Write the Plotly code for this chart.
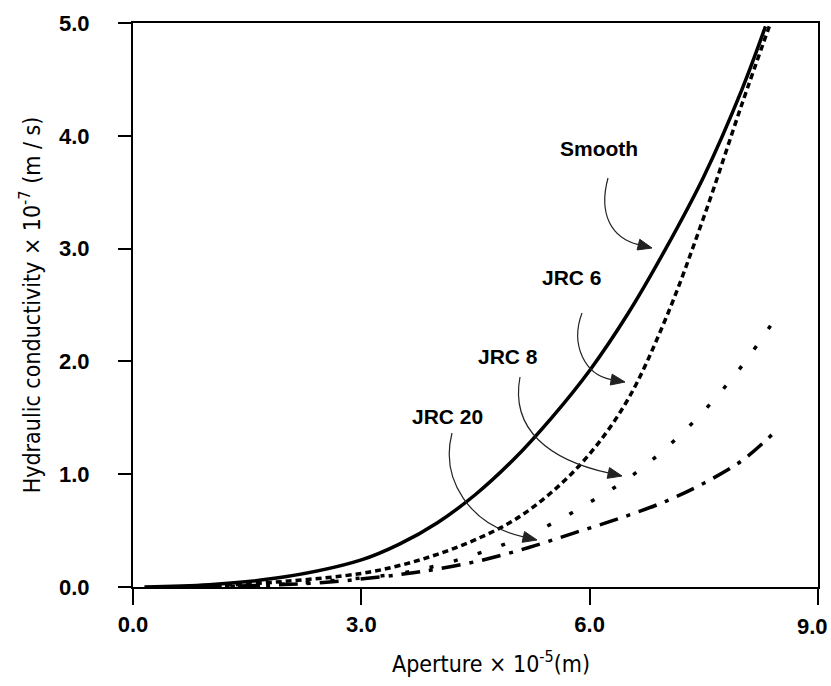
import plotly.graph_objects as go

# ---------------- data ----------------
smooth_x = [0.15, 1.0, 2.0, 3.0, 3.5, 4.0, 4.5, 5.0, 5.5, 6.0, 6.5, 7.0, 7.5, 8.0, 8.31]
smooth_y = [0.0, 0.02, 0.09, 0.24, 0.38, 0.57, 0.82, 1.13, 1.50, 1.92, 2.42, 3.00, 3.64, 4.41, 4.97]

jrc6_x = [0.3, 1.0, 2.0, 3.0, 3.5, 4.0, 4.5, 5.0, 5.5, 6.0, 6.5, 7.0, 7.5, 8.0, 8.36]
jrc6_y = [0.0, 0.01, 0.05, 0.12, 0.19, 0.29, 0.42, 0.59, 0.84, 1.18, 1.66, 2.38, 3.28, 4.28, 4.97]

jrc8_x = [0.3, 1.5, 2.5, 3.5, 4.0, 4.5, 5.0, 5.5, 6.0, 6.5, 7.0, 7.5, 8.0, 8.45]
jrc8_y = [0.0, 0.01, 0.05, 0.12, 0.19, 0.29, 0.41, 0.56, 0.75, 0.96, 1.23, 1.56, 1.96, 2.39]

jrc20_x = [0.3, 1.5, 2.5, 3.5, 4.0, 4.6, 5.2, 5.8, 6.4, 7.0, 7.5, 8.0, 8.41]
jrc20_y = [0.0, 0.01, 0.04, 0.11, 0.16, 0.24, 0.35, 0.48, 0.61, 0.76, 0.92, 1.12, 1.36]

x_ticks = [0.0, 3.0, 6.0, 9.0]
x_tick_labels = ["0.0", "3.0", "6.0", "9.0"]
y_ticks = [0.0, 1.0, 2.0, 3.0, 4.0, 5.0]
y_tick_labels = ["0.0", "1.0", "2.0", "3.0", "4.0", "5.0"]

series_names = ["Smooth", "JRC 6", "JRC 8", "JRC 20"]
x_title = "Aperture × 10<sup>-5</sup>(m)"
y_title = "Hydraulic conductivity × 10<sup>-7</sup> (m / s)"

# ---------------- layout geometry ----------------
W, H = 831, 686
L, R, T, B = 133, 818, 23, 587
XMAX, YMAX = 9.0, 5.0

def px2x(px):
    return (px - L) / (R - L) * XMAX

def px2y(py):
    return (B - py) / (B - T) * YMAX

def px2paperx(px):
    return (px - L) / (R - L)

def px2papery(py):
    return (B - py) / (B - T)

TITLE_FONT = "DejaVu Sans Condensed, Liberation Sans Narrow, sans-serif"
NUM_FONT = "Liberation Sans, Arial, sans-serif"
TICK_SIZE = 22

fig = go.Figure()
styles = [
    dict(dash="solid", width=3.5),
    dict(dash="6px,4px", width=3.5),
    dict(dash="4px,21px", width=3.5),
    dict(dash="19px,9px,4px,9px", width=3.5),
]
for (xs, ys), name, st in zip(
    [(smooth_x, smooth_y), (jrc6_x, jrc6_y), (jrc8_x, jrc8_y), (jrc20_x, jrc20_y)],
    series_names, styles):
    fig.add_trace(go.Scatter(x=xs, y=ys, mode="lines", name=name,
                             line=dict(color="black", shape="spline", smoothing=1.0, **st),
                             showlegend=False))

# label positions (pixels) and curved arrows (pixel control points)
labels = [
    ("Smooth", 599, 148, [(608, 178), (598, 215), (612, 238), (652, 248)]),
    ("JRC 6", 572, 277, [(582, 313), (570, 345), (585, 375), (625, 382)]),
    ("JRC 8", 508, 356, [(520, 377), (510, 430), (550, 460), (622, 476)]),
    ("JRC 20", 447, 416, [(452, 433), (440, 480), (470, 525), (537, 540)]),
]
ARROW = "#222222"
HEAD_LEN, HEAD_HALF = 14, 5.5
shapes = []
annotations = []
for text, lx, ly, pts in labels:
    annotations.append(dict(x=px2x(lx), y=px2y(ly), xref="x", yref="y", text="<b>" + text + "</b>",
                            showarrow=False, font=dict(family=NUM_FONT, size=21, color="black")))
    (x0, y0), (x1, y1), (x2, y2), (x3, y3) = pts
    dx, dy = x3 - x2, y3 - y2
    n = (dx * dx + dy * dy) ** 0.5
    ux, uy = dx / n, dy / n
    bx, by = x3 - ux * HEAD_LEN, y3 - uy * HEAD_LEN
    path = "M {},{} C {},{} {},{} {},{}".format(px2x(x0), px2y(y0), px2x(x1), px2y(y1),
                                               px2x(x2), px2y(y2), px2x(bx), px2y(by))
    shapes.append(dict(type="path", path=path, xref="x", yref="y",
                       line=dict(color=ARROW, width=1.2)))
    lx1, ly1 = bx - uy * HEAD_HALF, by + ux * HEAD_HALF
    lx2, ly2 = bx + uy * HEAD_HALF, by - ux * HEAD_HALF
    head = "M {},{} L {},{} L {},{} Z".format(px2x(x3), px2y(y3), px2x(lx1), px2y(ly1),
                                            px2x(lx2), px2y(ly2))
    shapes.append(dict(type="path", path=head, xref="x", yref="y",
                       line=dict(color=ARROW, width=1), fillcolor=ARROW))

# last x tick label placed as annotation so it stays inside the page edge
x_ticktext = x_tick_labels[:-1] + [""]
annotations.append(dict(x=px2paperx(830), y=px2papery(626), xref="paper", yref="paper",
                        xanchor="right", yanchor="middle", text="<b>" + x_tick_labels[-1] + "</b>",
                        showarrow=False, font=dict(family=NUM_FONT, size=TICK_SIZE, color="black")))
# x axis title
annotations.append(dict(x=px2paperx(491), y=px2papery(662), xref="paper", yref="paper",
                        xanchor="center", yanchor="middle", text=x_title, showarrow=False,
                        font=dict(family=TITLE_FONT, size=23, color="black")))

fig.update_layout(
    width=W, height=H,
    margin=dict(l=L, r=W - R, t=T, b=H - B, pad=0),
    paper_bgcolor="white", plot_bgcolor="white",
    shapes=shapes, annotations=annotations,
    font=dict(family=TITLE_FONT, color="black"),
)
fig.update_xaxes(
    range=[0, XMAX], tickvals=x_ticks, ticktext=x_ticktext, automargin=False,
    showgrid=False, zeroline=False, showline=True, linecolor="black", linewidth=2,
    mirror=True, ticks="outside", ticklen=16, tickwidth=2, tickcolor="black",
    ticklabelstandoff=1, ticklabeloverflow="allow",
    tickfont=dict(family=NUM_FONT, size=TICK_SIZE, color="black", weight="bold"),
)
fig.update_yaxes(
    range=[0, YMAX], tickvals=y_ticks, ticktext=y_tick_labels, automargin=False,
    showgrid=False, zeroline=False, showline=True, linecolor="black", linewidth=2,
    mirror=True, ticks="outside", ticklen=13, tickwidth=2, tickcolor="black",
    ticklabelstandoff=24, ticklabeloverflow="allow",
    tickfont=dict(family=NUM_FONT, size=TICK_SIZE, color="black", weight="bold"),
    title=dict(text=y_title, font=dict(family=TITLE_FONT, size=23), standoff=12),
)

fig.write_html("out.html")
